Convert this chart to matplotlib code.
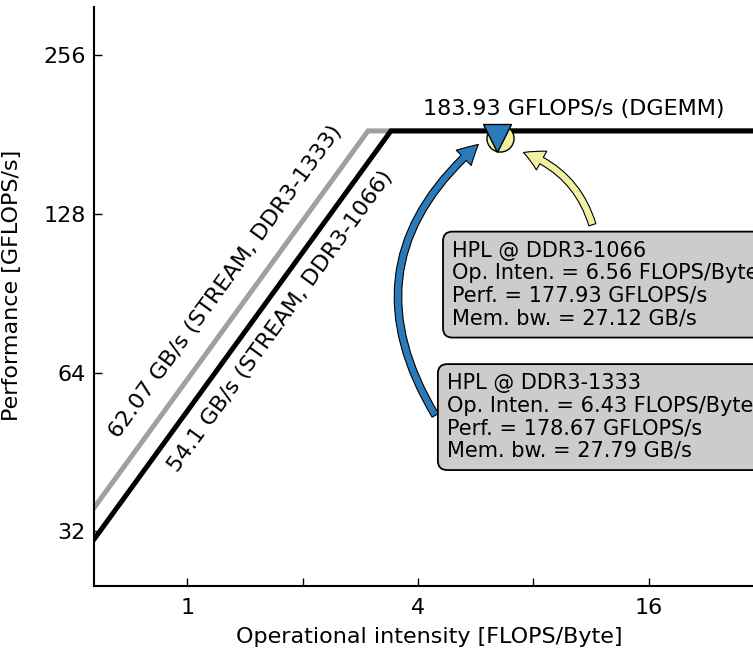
import numpy as np
import matplotlib
matplotlib.use('Agg')
import matplotlib.pyplot as plt

# roofline data
peak = 183.93                      # GFLOPS/s (DGEMM)
bw_labels = ['62.07 GB/s (STREAM, DDR3-1333)', '54.1 GB/s (STREAM, DDR3-1066)']
bandwidths = [62.07, 54.1]         # GB/s
roof_colors = ['#a0a0a0', 'black']

# measured HPL points
hpl_names = ['HPL @ DDR3-1066', 'HPL @ DDR3-1333']
hpl_oi = [6.56, 6.43]              # FLOPS/Byte
hpl_perf = [177.93, 178.67]        # GFLOPS/s
hpl_bw = [27.12, 27.79]            # GB/s
hpl_colors = ['#f4f0a2', '#2b7bba']
hpl_markers = ['o', 'v']

xticks = [1, 2, 4, 8, 16]
xticklabels = ['1', '', '4', '', '16']
yticks = [32, 64, 128, 256]

xmin, xmax = 0.571, 32.0
ymin, ymax = 25.2, 316.0

fig = plt.figure(figsize=(7.53, 6.5), dpi=100)
ax = fig.add_axes([94 / 753, 64 / 650, 670 / 753, 579 / 650])
ax.set_xscale('log', base=2)
ax.set_yscale('log', base=2)
ax.set_xlim(xmin, xmax)
ax.set_ylim(ymin, ymax)

for bw, c in zip(bandwidths, roof_colors):
    ridge = peak / bw
    ax.plot([xmin, ridge, xmax], [bw * xmin, peak, peak], color=c, lw=3.6,
            solid_joinstyle='miter', zorder=2)

for oi, p, c, m in zip(hpl_oi, hpl_perf, hpl_colors, hpl_markers):
    ax.plot(oi, p, marker=m, ms=19.5, mfc=c, mec='black', mew=1.0, ls='none', zorder=5)

# slope of memory roof in display space
p0 = ax.transData.transform((1, 1))
p1 = ax.transData.transform((2, 2))
angle = np.degrees(np.arctan2(p1[1] - p0[1], p1[0] - p0[0]))

ax.text(1.257, 95.1, bw_labels[0], rotation=angle, rotation_mode='anchor',
        ha='center', va='center', fontsize=16)
ax.text(1.749, 79.9, bw_labels[1], rotation=angle, rotation_mode='anchor',
        ha='center', va='center', fontsize=16)

ax.text(10.18, 194, '%.2f GFLOPS/s (DGEMM)' % peak, ha='center', va='bottom', fontsize=16)

box_pos = [(4.92, 94.0), (4.77, 52.7)]
for (tx, ty), name, oi, p, b in zip(box_pos, hpl_names, hpl_oi, hpl_perf, hpl_bw):
    txt = '%s\nOp. Inten. = %.2f FLOPS/Byte\nPerf. = %.2f GFLOPS/s\nMem. bw. = %.2f GB/s' % (name, oi, p, b)
    ax.text(tx, ty, txt, ha='left', va='center', fontsize=15, zorder=6, linespacing=1.15,
            bbox=dict(boxstyle='round,pad=0.45', fc='#cccccc', ec='black', lw=1.3))

# arrows from boxes to points
astyle = 'simple,head_length=0.65,head_width=0.7,tail_width=0.24'
ax.annotate('', xy=(7.54, 167.4), xytext=(11.41, 122.1),
            arrowprops=dict(arrowstyle=astyle, connectionstyle='arc3,rad=0.25',
                            fc=hpl_colors[0], ec='black', lw=0.8,
                            shrinkA=0, shrinkB=0, mutation_scale=22))
ax.annotate('', xy=(5.75, 173.4), xytext=(4.44, 53.1),
            arrowprops=dict(arrowstyle=astyle, connectionstyle='arc3,rad=-0.42',
                            fc=hpl_colors[1], ec='black', lw=0.8,
                            shrinkA=0, shrinkB=0, mutation_scale=22))

ax.set_xticks(xticks)
ax.set_xticklabels(xticklabels)
ax.set_yticks(yticks)
ax.set_yticklabels([str(v) for v in yticks])
ax.minorticks_off()
ax.tick_params(direction='in', length=6, width=1, labelsize=16)
ax.tick_params(axis='y', pad=6)
ax.tick_params(axis='x', pad=9)
for s in ['top', 'right']:
    ax.spines[s].set_visible(False)
for s in ['left', 'bottom']:
    ax.spines[s].set_linewidth(1.5)

ax.set_xlabel('Operational intensity [FLOPS/Byte]', fontsize=16, labelpad=6)
ax.set_ylabel('Performance [GFLOPS/s]', fontsize=16)
ax.yaxis.set_label_coords(-0.108, 0.52)

fig.savefig('out.png', dpi=100)
